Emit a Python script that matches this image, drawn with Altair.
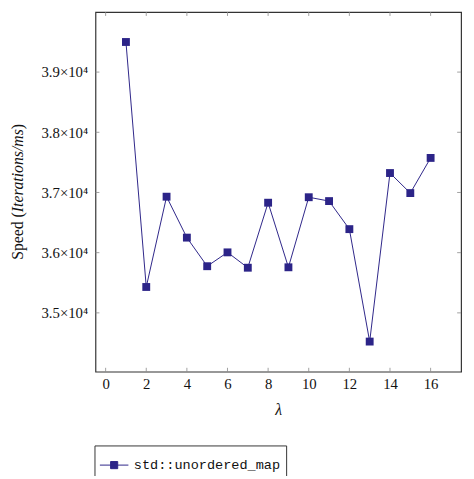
import altair as alt
import pandas as pd

# ---- data ----
LAMBDA = list(range(1, 17))
SPEED = [39500, 35430, 36930, 36250, 35775, 36005, 35750, 36830,
         35757, 36921, 36857, 36391, 34523, 37323, 36990, 37574]
SERIES = "std::unordered_map"
X_TICKS = [0, 2, 4, 6, 8, 10, 12, 14, 16]
Y_TICKS = [35000, 36000, 37000, 38000, 39000]
Y_TITLE_PARTS = ["Speed (", "Iterations/ms", ")"]

COLOR = "#2c2488"
W, H = 372, 366
SERIF = "Liberation Serif"
TFS = 16  # title font size

df = pd.DataFrame({"lam": LAMBDA, "speed": SPEED, "series": [SERIES] * len(LAMBDA)})
xt = pd.DataFrame({"lam": X_TICKS})
yt = pd.DataFrame({"speed": Y_TICKS})

xscale = alt.Scale(domain=[-0.5, 17.5], nice=False, zero=False)
yscale = alt.Scale(domain=[34022, 39998], nice=False, zero=False)

x_axis = alt.Axis(values=X_TICKS, ticks=False, domain=False, grid=False,
                  labelPadding=5, title="λ", titleFontStyle="italic",
                  titleFontSize=16, titlePadding=11)
y_axis = alt.Axis(values=Y_TICKS, ticks=False, domain=False, grid=False,
                  labelPadding=8,
                  labelExpr="format(datum.value/10000, '.1f') + '×10⁴'",
                  title=None)

X = alt.X("lam:Q", scale=xscale, axis=x_axis)
Y = alt.Y("speed:Q", scale=yscale, axis=y_axis)

line = alt.Chart(df).mark_line(color=COLOR, strokeWidth=1).encode(x=X, y=Y)

points = alt.Chart(df).mark_point(shape="square", filled=True, size=64,
                                  opacity=1).encode(
    x=X, y=Y,
    color=alt.Color("series:N", scale=alt.Scale(range=[COLOR]),
                    legend=alt.Legend(title=None, orient="none", legendX=-1, legendY=441,
                                      direction="vertical",
                                      symbolType="M-1,0H1M-0.25,-0.25H0.25V0.25H-0.25Z",
                                      symbolSize=841, symbolStrokeWidth=1,
                                      symbolStrokeColor=COLOR, symbolFillColor=COLOR,
                                      strokeColor="#333", padding=5,
                                      fillColor="white")),
)

tick_color = "#888"
bottom_ticks = alt.Chart(xt).mark_rule(color=tick_color, strokeWidth=0.8).encode(
    x=X, y=alt.value(H), y2=alt.value(H - 4))
top_ticks = alt.Chart(xt).mark_rule(color=tick_color, strokeWidth=0.8).encode(
    x=X, y=alt.value(0), y2=alt.value(4))
left_ticks = alt.Chart(yt).mark_rule(color=tick_color, strokeWidth=0.8).encode(
    y=Y, x=alt.value(0), x2=alt.value(4))
right_ticks = alt.Chart(yt).mark_rule(color=tick_color, strokeWidth=0.8).encode(
    y=Y, x=alt.value(W), x2=alt.value(W - 4))

# y-axis title assembled from roman / italic pieces (rotated)
w_part0 = 3.027 * TFS   # width of "Speed (" in Times metrics
w_part1 = 5.278 * TFS   # width of italic "Iterations/ms"
total = w_part0 + w_part1 + 0.333 * TFS
y_start = H / 2 + total / 2
tx = -79
title_layers = []
offsets = [0, w_part0, w_part0 + w_part1]
styles = ["normal", "italic", "normal"]
for part, off, st in zip(Y_TITLE_PARTS, offsets, styles):
    title_layers.append(
        alt.Chart(pd.DataFrame({"t": [part]})).mark_text(
            angle=270, align="left", baseline="middle", font=SERIF,
            fontSize=TFS, fontStyle=st, color="#111",
        ).encode(text="t:N", x=alt.value(tx), y=alt.value(y_start - off))
    )

chart = alt.layer(line, points, bottom_ticks, top_ticks, left_ticks, right_ticks,
                  *title_layers).properties(
    width=W, height=H,
    background="white",
    autosize=alt.AutoSizeParams(type="none"),
    padding={"left": 89, "top": 0, "right": 5, "bottom": 102},
).configure_view(stroke="#333", strokeWidth=1.2).configure_axis(
    labelFont=SERIF, labelFontSize=15, labelColor="#111",
    titleFont=SERIF, titleFontWeight="normal", titleColor="#111",
).configure_legend(
    labelFont="Liberation Mono", labelFontSize=13.8, labelColor="#111",
    labelOffset=5, labelLimit=400,
)

chart.save("out.html", embed_options={"renderer": "svg", "actions": False})
